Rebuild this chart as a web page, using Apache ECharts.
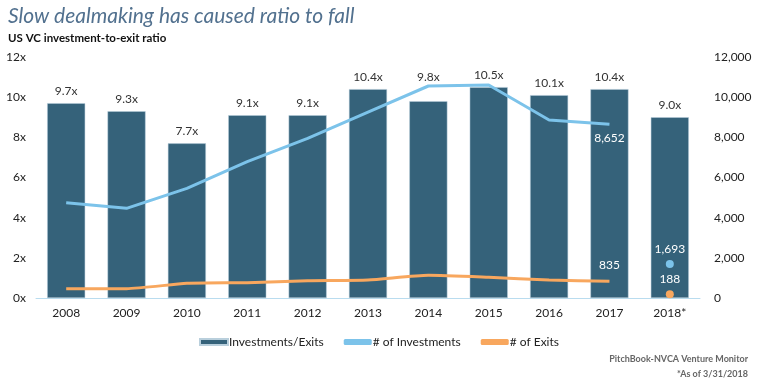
<!DOCTYPE html>
<html><head><meta charset="utf-8">
<script src="https://cdn.jsdelivr.net/npm/echarts@6/dist/echarts.min.js"></script>
<style>html,body{margin:0;padding:0;background:#fff}#c{width:758px;height:379px}</style>
</head><body><div id="c"></div>
<script>
const categories = ['2008','2009','2010','2011','2012','2013','2014','2015','2016','2017','2018*'];
const ratio = [9.7, 9.3, 7.7, 9.1, 9.1, 10.4, 9.8, 10.5, 10.1, 10.4, 9.0];
const investments = [4745, 4466, 5462, 6787, 7950, 9260, 10556, 10606, 8863, 8652, null];
const exits = [465, 465, 730, 763, 863, 896, 1128, 1029, 896, 835, null];
const investments2018 = [null, null, null, null, null, null, null, null, null, null, 1693];
const exits2018 = [null, null, null, null, null, null, null, null, null, null, 188];
const leftTicks = [0, 2, 4, 6, 8, 10, 12];
const rightTicks = [0, 2000, 4000, 6000, 8000, 10000, 12000];

const FONT = 'Lato';
const chart = echarts.init(document.getElementById('c'));
const whiteLabel = (pos) => ({show: true, position: pos, color: '#fff', fontFamily: FONT, fontSize: 12,
  formatter: p => p.value == null ? '' : p.value.toLocaleString('en-US')});
// 2014 label is lifted above the investments line, as in the reference
const ratioData = ratio.map((v, i) => i === 6 ? {value: v, label: {distance: 18}} : v);
chart.setOption({
  animation: false,
  textStyle: {fontFamily: FONT},
  title: [
    {text: 'Slow dealmaking has caused ratio to fall', left: 3, top: 1,
      textStyle: {fontFamily: FONT, fontStyle: 'italic', fontWeight: 'normal', fontSize: 21, color: '#52718f'}},
    {text: 'US VC investment-to-exit ratio', left: 3, top: 27,
      textStyle: {fontFamily: FONT, fontWeight: 'bold', fontSize: 11.5, color: '#111'}},
    {text: 'PitchBook-NVCA Venture Monitor', right: 5, top: 350,
      textStyle: {fontFamily: FONT, fontWeight: 'bold', fontSize: 9, color: '#666'}},
    {text: '*As of 3/31/2018', right: 5, top: 365,
      textStyle: {fontFamily: FONT, fontWeight: 'bold', fontSize: 9, color: '#666'}}
  ],
  legend: {
    data: [
      {name: 'Investments/Exits', icon: 'rect'},
      {name: '# of Investments', icon: 'roundRect'},
      {name: '# of Exits', icon: 'roundRect'}
    ],
    left: 'center', top: 331, itemWidth: 28, itemHeight: 6, itemGap: 20,
    textStyle: {fontFamily: FONT, fontSize: 12, color: '#222', padding: [0, 0, 0, -4]}
  },
  grid: {left: 36, right: 58, top: 57, bottom: 81},
  xAxis: {
    type: 'category', data: categories,
    axisLine: {lineStyle: {color: '#b9dcef', width: 1}},
    axisTick: {show: false},
    axisLabel: {fontFamily: FONT, fontSize: 12, color: '#222', margin: 9}
  },
  yAxis: [
    {type: 'value', min: 0, max: 12, interval: 2, splitLine: {show: false},
      axisLine: {show: false}, axisTick: {show: false},
      axisLabel: {fontFamily: FONT, fontSize: 12, color: '#222', margin: 10,
        formatter: v => leftTicks.includes(v) ? v + 'x' : ''}},
    {type: 'value', min: 0, max: 12000, interval: 2000, splitLine: {show: false},
      axisLine: {show: false}, axisTick: {show: false},
      axisLabel: {fontFamily: FONT, fontSize: 12, color: '#222', margin: 14,
        formatter: v => rightTicks.includes(v) ? v.toLocaleString('en-US') : ''}}
  ],
  series: [
    {name: 'Investments/Exits', type: 'bar', data: ratioData, barWidth: '63%',
      itemStyle: {color: '#35627a', borderColor: '#b9cfdc', borderWidth: 0.5},
      label: {show: true, position: 'top', distance: 6, fontFamily: FONT, fontSize: 12, color: '#333',
        formatter: p => Number(p.value).toFixed(1) + 'x'}},
    {name: '# of Investments', type: 'line', yAxisIndex: 1, data: investments, smooth: false,
      showSymbol: false, lineStyle: {color: '#7cc3ea', width: 3}, itemStyle: {color: '#7cc3ea'},
      markPoint: {symbol: 'circle', symbolSize: 0, data: [{coord: [9, 8652], value: 8652}],
        label: {show: true, position: 'bottom', distance: 8, color: '#fff', fontFamily: FONT, fontSize: 12,
          formatter: '8,652'}}},
    {name: '# of Exits', type: 'line', yAxisIndex: 1, data: exits, smooth: 0.2,
      showSymbol: false, lineStyle: {color: '#f8a75e', width: 3}, itemStyle: {color: '#f8a75e'},
      markPoint: {symbol: 'circle', symbolSize: 0, data: [{coord: [9, 835], value: 835}],
        label: {show: true, position: 'top', distance: 10, color: '#fff', fontFamily: FONT, fontSize: 12,
          formatter: '835'}}},
    {name: 'inv2018', type: 'scatter', yAxisIndex: 1, data: investments2018, symbolSize: 8,
      itemStyle: {color: '#7cc3ea', opacity: 1}, label: whiteLabel('top')},
    {name: 'exit2018', type: 'scatter', yAxisIndex: 1, data: exits2018, symbolSize: 8,
      itemStyle: {color: '#f8a75e', opacity: 1}, label: whiteLabel('top')}
  ]
});
</script></body></html>
